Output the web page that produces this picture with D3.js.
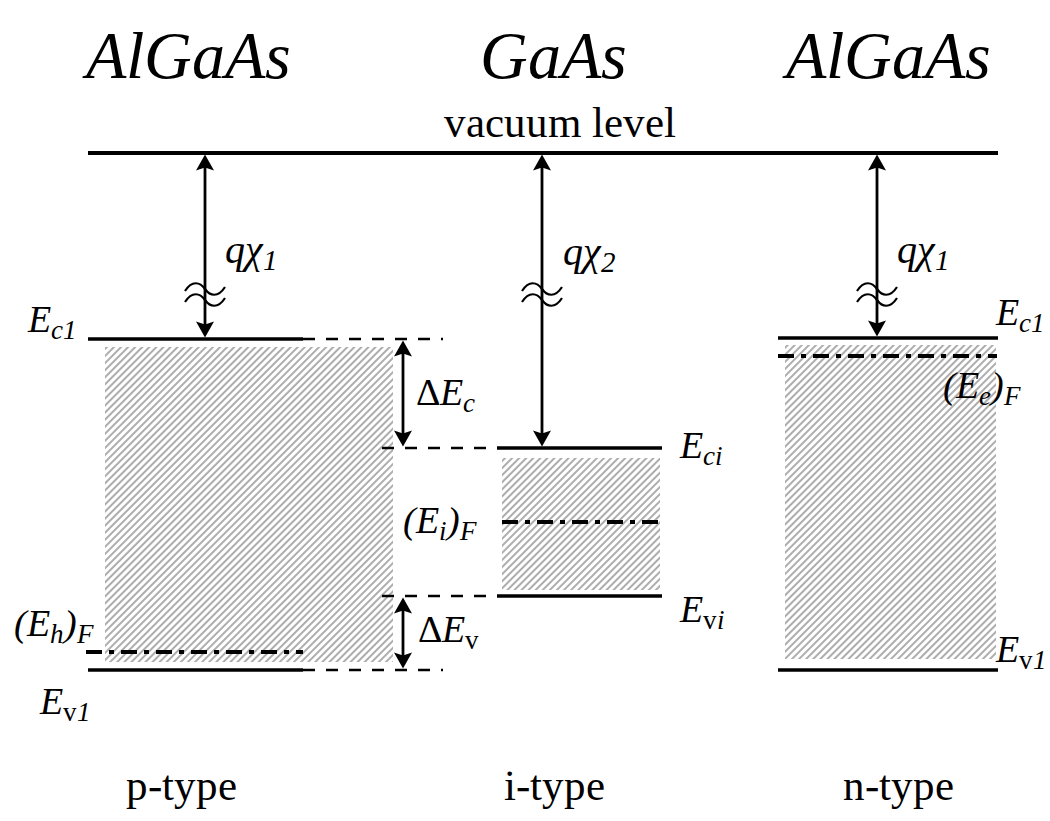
<!DOCTYPE html>
<html>
<head>
<meta charset="utf-8">
<script src="https://cdn.jsdelivr.net/npm/d3@7"></script>
<style>
  @font-face {
    font-family: "ChartSerif";
    font-style: normal;
    src: local("Liberation Serif"), local("LiberationSerif"), local("Times New Roman"), local("DejaVu Serif");
  }
  @font-face {
    font-family: "ChartSerif";
    font-style: italic;
    src: local("Liberation Serif Italic"), local("LiberationSerif-Italic"), local("Times New Roman Italic"), local("DejaVu Serif Italic");
  }
  body { margin: 0; background: #fff; }
  svg text, svg tspan { font-family: "ChartSerif", "Liberation Serif", serif !important; }
</style>
</head>
<body>
<script>
// layers (left to right)
const materials = ["AlGaAs", "GaAs", "AlGaAs"];
const dopings = ["p-type", "i-type", "n-type"];

// energies in arbitrary units, Ev1 = 0
const vacuumLevel = 5.17;
const ecLevels = [3.31, 2.22, 3.32];
const evLevels = [0, 0.74, 0];
const fermiLevels = [0.18, 1.48, 3.14];

// horizontal extents of each layer (position units)
const levelSpans = [[0, 21.5], [40.9, 57.4], [69, 91]];
const bandSpans = [[1.7, 30.5], [41.4, 57.2], [69.7, 90.8]];
const bandTops = [3.23, 2.12, 3.25];
const bandBottoms = [0.08, 0.8, 0.11];
const fermiSpans = [[-0.2, 21.5], [41.4, 57.4], [69, 90.9]];
const arrowX = [11.7, 45.4, 78.9];
const offsetDash = [[21.5, 35.5], [29.4, 40.9]]; // Ec/Ev continuation of p layer, and i layer lead-in
const deltaX = 31.5;

const W = 1050, H = 821;
const svg = d3.select("body").append("svg")
  .attr("width", W).attr("height", H);

const x = d3.scaleLinear().domain([0, 91]).range([88, 998]);
const y = d3.scaleLinear().domain([0, vacuumLevel]).range([670, 153]);

// hatch pattern
const defs = svg.append("defs");
const pat = defs.append("pattern")
  .attr("id", "hatch")
  .attr("patternUnits", "userSpaceOnUse")
  .attr("width", 5).attr("height", 10)
  .attr("patternTransform", "rotate(45)");
pat.append("rect").attr("width", 5).attr("height", 10).attr("fill", "#fff");
pat.append("line")
  .attr("x1", 1).attr("x2", 1).attr("y1", 0).attr("y2", 10)
  .attr("stroke", "#a4a4a4").attr("stroke-width", 1.8);

// shaded bands
svg.append("g").selectAll("rect")
  .data(d3.range(3))
  .join("rect")
  .attr("x", i => x(bandSpans[i][0]))
  .attr("width", i => x(bandSpans[i][1]) - x(bandSpans[i][0]))
  .attr("y", i => y(bandTops[i]))
  .attr("height", i => y(bandBottoms[i]) - y(bandTops[i]))
  .attr("fill", "url(#hatch)");

const line = d3.line();
function hline(x0, x1, e, cls) {
  const p = svg.append("path")
    .attr("d", line([[x(x0), y(e)], [x(x1), y(e)]]))
    .attr("fill", "none").attr("stroke", "#000");
  if (cls === "solid") p.attr("stroke-width", 3.5);
  if (cls === "dash") p.attr("stroke-width", 2.5).attr("stroke-dasharray", "12,11");
  if (cls === "dashdot") p.attr("stroke-width", 4).attr("stroke-dasharray", "16,7,5,7");
  return p;
}

// vacuum level
hline(0, 91, vacuumLevel, "solid").attr("stroke-width", 4);

// dashed continuations
hline(offsetDash[0][0], offsetDash[0][1], ecLevels[0], "dash");
hline(offsetDash[0][0], offsetDash[0][1], evLevels[0], "dash");
hline(offsetDash[1][0], offsetDash[1][1], ecLevels[1], "dash");
hline(offsetDash[1][0], offsetDash[1][1], evLevels[1], "dash");

// band edges and Fermi levels
d3.range(3).forEach(i => {
  hline(levelSpans[i][0], levelSpans[i][1], ecLevels[i], "solid");
  hline(levelSpans[i][0], levelSpans[i][1], evLevels[i], "solid");
  hline(fermiSpans[i][0], fermiSpans[i][1], fermiLevels[i], "dashdot");
});

// arrows
function head(px, py, dir) {
  // dir = -1 points up, 1 points down
  const L = 16, Wd = 9, n = 3;
  svg.append("path")
    .attr("d", `M${px},${py} L${px - Wd},${py - dir * L} L${px},${py - dir * (L - n)} L${px + Wd},${py - dir * L} Z`)
    .attr("fill", "#000");
}
function arrow(xp, e0, e1) {
  const px = x(xp), top = y(e0), bot = y(e1);
  svg.append("path")
    .attr("d", line([[px, top + 10], [px, bot - 10]]))
    .attr("stroke", "#000").attr("stroke-width", 2.8);
  head(px, top + 1.5, -1);
  head(px, bot - 1.5, 1);
}
function squiggle(xp) {
  const px = x(xp), g = svg.append("g");
  [289, 300].forEach(cy => {
    g.append("path")
      .attr("d", `M${px - 20},${cy + 2} C${px - 13},${cy - 9} ${px - 5},${cy - 7} ${px},${cy} S${px + 13},${cy + 9} ${px + 20},${cy - 2}`)
      .attr("fill", "none").attr("stroke", "#000").attr("stroke-width", 2.2);
  });
}
d3.range(3).forEach(i => {
  arrow(arrowX[i], vacuumLevel, ecLevels[i]);
  squiggle(arrowX[i]);
});
arrow(deltaX, ecLevels[0], ecLevels[1]);
arrow(deltaX, evLevels[1], evLevels[0]);

// labels: parts = [text, kind] ; kind: i = italic, r = roman, si/sr = subscript
function label(px, py, parts, size = 38) {
  const t = svg.append("text").attr("x", px).attr("y", py)
    .attr("font-size", size);
  let sub = false;
  parts.forEach(([s, k]) => {
    const isSub = k[0] === "s";
    const ts = t.append("tspan").text(s)
      .attr("font-style", k.endsWith("i") ? "italic" : "normal")
      .attr("font-size", isSub ? size * 0.72 : size);
    if (isSub && !sub) ts.attr("dy", 7);
    if (!isSub && sub) ts.attr("dy", -7);
    sub = isSub;
  });
  return t;
}

label(225, 263, [["qχ", "i"], ["1", "si"]], 40);
label(563, 265, [["qχ", "i"], ["2", "si"]], 40);
label(897, 263, [["qχ", "i"], ["1", "si"]], 40);

label(28, 332, [["E", "i"], ["c1", "si"]]);
label(40, 714, [["E", "i"], ["v", "sr"], ["1", "si"]]);
label(14, 636, [["(E", "i"], ["h", "si"], [")", "i"], ["F", "si"]]);
label(416, 405, [["Δ", "r"], ["E", "i"], ["c", "si"]]);
label(418, 642, [["Δ", "r"], ["E", "i"], ["v", "sr"]]);
label(403, 533, [["(E", "i"], ["i", "si"], [")", "i"], ["F", "si"]]);
label(680, 458, [["E", "i"], ["ci", "si"]]);
label(680, 622, [["E", "i"], ["v", "sr"], ["i", "si"]]);
label(943, 398, [["(E", "i"], ["e", "si"], [")", "i"], ["F", "si"]]);
label(996, 325, [["E", "i"], ["c1", "si"]]);
label(996, 662, [["E", "i"], ["v", "sr"], ["1", "si"]]);

// titles and bottom captions
const titleX = [188, 553, 888];
svg.selectAll("text.title")
  .data(materials)
  .join("text")
  .attr("class", "title")
  .attr("x", (d, i) => titleX[i]).attr("y", 78)
  .attr("text-anchor", "middle")
  .attr("font-size", 66).attr("font-style", "italic")
  .text(d => d);

svg.append("text")
  .attr("x", 560).attr("y", 137)
  .attr("text-anchor", "middle").attr("font-size", 43)
  .text("vacuum level");

svg.selectAll("text.doping")
  .data(dopings)
  .join("text")
  .attr("class", "doping")
  .attr("x", (d, i) => [181, 554, 898][i]).attr("y", 800)
  .attr("text-anchor", "middle")
  .attr("font-size", 43)
  .text(d => d);
</script>
</body>
</html>
